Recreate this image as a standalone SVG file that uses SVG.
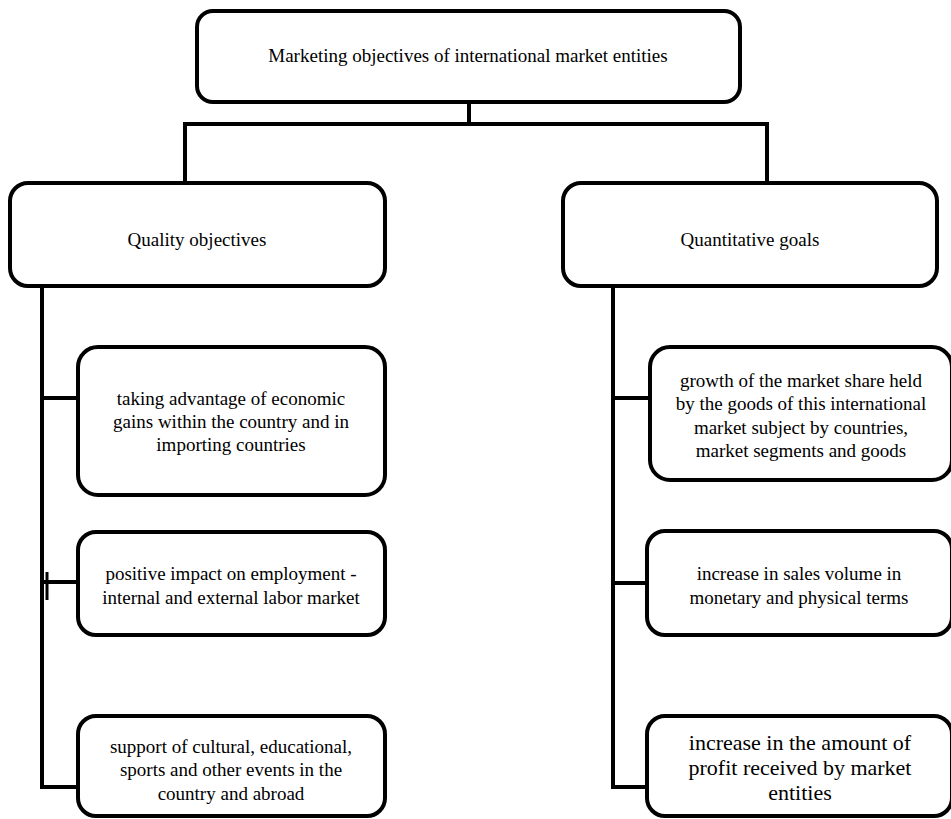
<svg xmlns="http://www.w3.org/2000/svg" width="951" height="819" viewBox="0 0 951 819">
<style>
.box{fill:#fff;stroke:#000;stroke-width:4}
.ln{fill:none;stroke:#000;stroke-width:4}
text{font-family:"Liberation Serif","Times New Roman",serif;font-size:19px;fill:#000;text-anchor:middle}
.big{font-size:22px}
</style>
<rect width="951" height="819" fill="#fff"/>
<g id="connectors">
<path class="ln" d="M469 102V124M185 124H767M185 122V183M767 122V183"/>
<path class="ln" d="M42 286V789M40 398H78M40 582H78M40 787H78"/>
<path class="ln" d="M613 286V789M611 398H650M611 583H647M611 787H647"/>
<path d="M47 572V600" stroke="#000" stroke-width="3"/>
</g>
<g id="root"><rect class="box" x="197" y="11" width="543" height="91" rx="16"/>
<text x="468" y="62">Marketing objectives of international  market entities</text></g>
<g id="quality"><rect class="box" x="10" y="183" width="375" height="103" rx="18"/>
<text x="197" y="246">Quality objectives</text></g>
<g id="quantitative"><rect class="box" x="563" y="183" width="374" height="103" rx="18"/>
<text x="750" y="246">Quantitative goals</text></g>
<g id="q1"><rect class="box" x="78" y="347" width="307" height="148" rx="20"/>
<text x="231" y="405">taking advantage of economic</text><text x="231" y="428">gains within the country and in</text><text x="231" y="451">importing countries</text></g>
<g id="q2"><rect class="box" x="78" y="532" width="307" height="103" rx="18"/>
<text x="231" y="580">positive impact on employment -</text><text x="231" y="604">internal and external labor market</text></g>
<g id="q3"><rect class="box" x="78" y="716" width="307" height="100" rx="18"/>
<text x="231" y="753">support of cultural, educational,</text><text x="231" y="776">sports and other events in the</text><text x="231" y="800">country and abroad</text></g>
<g id="n1"><rect class="box" x="650" y="347" width="302" height="133" rx="20"/>
<text x="801" y="387">growth of the market share held</text><text x="801" y="410">by the goods of this international</text><text x="801" y="434">market subject by countries,</text><text x="801" y="457">market segments and goods</text></g>
<g id="n2"><rect class="box" x="647" y="531" width="305" height="104" rx="18"/>
<text x="799" y="580">increase in sales volume in</text><text x="799" y="604">monetary and physical terms</text></g>
<g id="n3"><rect class="box" x="647" y="716" width="305" height="100" rx="18"/>
<text class="big" x="800" y="750">increase in the amount of</text><text class="big" x="800" y="775">profit received by market</text><text class="big" x="800" y="800">entities</text></g>
</svg>
